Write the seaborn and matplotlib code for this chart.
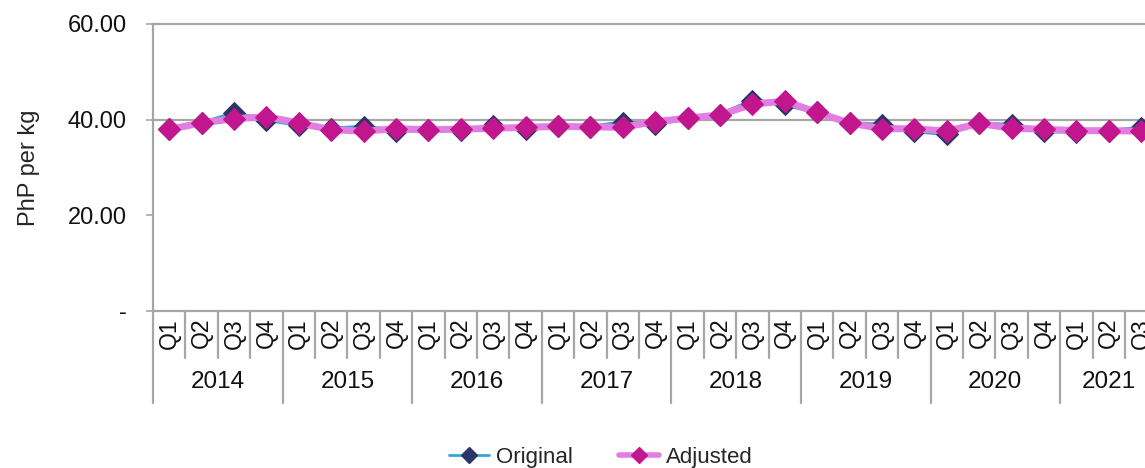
import matplotlib
matplotlib.use("Agg")
import matplotlib.pyplot as plt
import matplotlib.transforms as mtransforms
from matplotlib.lines import Line2D
import seaborn as sns
import pandas as pd
import numpy as np

years = ["2014", "2015", "2016", "2017", "2018", "2019", "2020", "2021"]
quarters_per_year = [4, 4, 4, 4, 4, 4, 4, 3]
quarter_labels = ["Q1", "Q2", "Q3", "Q4"]

original = [38.0, 39.3, 41.3, 40.0, 38.9, 38.1, 38.5, 37.7,
            37.8, 37.9, 38.6, 38.0, 38.6, 38.5, 39.4, 39.1,
            40.3, 41.0, 44.0, 43.2, 41.5, 39.3, 38.9, 37.6,
            37.0, 39.2, 38.9, 37.6, 37.5, 37.6, 38.3]
adjusted = [38.0, 39.3, 40.2, 40.6, 39.3, 37.9, 37.6, 38.1,
            37.9, 38.0, 38.2, 38.4, 38.6, 38.5, 38.4, 39.6,
            40.3, 41.0, 43.2, 43.9, 41.5, 39.3, 38.1, 38.1,
            37.6, 39.2, 38.2, 38.0, 37.7, 37.7, 37.6]

series_names = ["Original", "Adjusted"]
yticks = [0, 20, 40, 60]
ytick_labels = ["-", "20.00", "40.00", "60.00"]

qlabels = []
for n in quarters_per_year:
    qlabels += quarter_labels[:n]
n_pts = len(qlabels)
x = np.arange(n_pts)

df = pd.DataFrame({"x": np.concatenate([x, x]),
                   "value": original + adjusted,
                   "series": [series_names[0]] * n_pts + [series_names[1]] * n_pts})

sns.set_style("white")
plt.rcParams["font.family"] = ["Liberation Sans", "DejaVu Sans"]

fig = plt.figure(figsize=(11.45, 4.68), dpi=100)
ax = fig.add_axes([153 / 1145, 1 - 311 / 468, 1 - 153 / 1145, (311 - 24) / 468])

line_cols = {"Original": "#2fa8d8", "Adjusted": "#e27de2"}
mk_cols = {"Original": "#2a3766", "Adjusted": "#c2168f"}
lws = {"Original": 3.0, "Adjusted": 5.0}

ax.axhline(40, color="#a6a6a6", lw=1.6, zorder=1)

for name in series_names:
    sub = df[df["series"] == name]
    sns.lineplot(data=sub, x="x", y="value", ax=ax, color=line_cols[name],
                 lw=lws[name], marker="D", markersize=11,
                 markerfacecolor=mk_cols[name], markeredgecolor=mk_cols[name],
                 legend=False, zorder=3 if name == "Adjusted" else 2)

ax.set_xlim(-0.5, 30.12)
ax.set_ylim(0, 60)
ax.set_yticks(yticks)
ax.set_yticklabels(ytick_labels, fontsize=17)
ax.set_ylabel("PhP per kg", fontsize=17, labelpad=0)
ax.yaxis.set_label_coords(-(153 - 40) / (1145 - 153), 0.5)
ax.set_xlabel("")

for s in ["left", "top", "bottom"]:
    ax.spines[s].set_color("#a6a6a6")
    ax.spines[s].set_linewidth(1.6)
ax.spines["right"].set_visible(False)

ax.tick_params(axis="y", which="both", left=True, length=5, color="#a6a6a6",
               width=1.2, pad=14, labelcolor="#111111")

# quarter labels
ax.set_xticks(x)
ax.set_xticklabels(qlabels, rotation=90, fontsize=16.5, color="#111111")
ax.tick_params(axis="x", length=0, pad=5)

trans = mtransforms.blended_transform_factory(ax.transData, ax.transAxes)
ax_h_px = 311 - 24
q_depth = -(358 - 311) / ax_h_px
y_depth = -(403 - 311) / ax_h_px

# separators
bounds = np.cumsum([0] + quarters_per_year) - 0.5
for b in np.arange(-0.5, n_pts, 1.0):
    is_year = np.any(np.isclose(bounds, b))
    ax.plot([b, b], [0, y_depth if is_year else q_depth], transform=trans,
            color="#a6a6a6", lw=1.6, clip_on=False)

# year labels
start = 0
for yr, n in zip(years, quarters_per_year):
    center = start + (n - 1) / 2
    ax.text(center, -(382 - 311) / ax_h_px, yr, transform=trans, ha="center",
            va="center", fontsize=17.5, color="#111111")
    start += n

handles = [Line2D([], [], color=line_cols[n], lw=lws[n] - 1, marker="D",
                  markersize=8, markerfacecolor=mk_cols[n],
                  markeredgecolor=mk_cols[n]) for n in series_names]
fig.legend(handles, series_names, loc="center", bbox_to_anchor=(601 / 1145, 1 - 457 / 468),
           ncol=2, frameon=False, fontsize=16, handlelength=1.8,
           columnspacing=2.1, handletextpad=0.3, borderpad=0, borderaxespad=0)

fig.savefig("out.png", dpi=100)
